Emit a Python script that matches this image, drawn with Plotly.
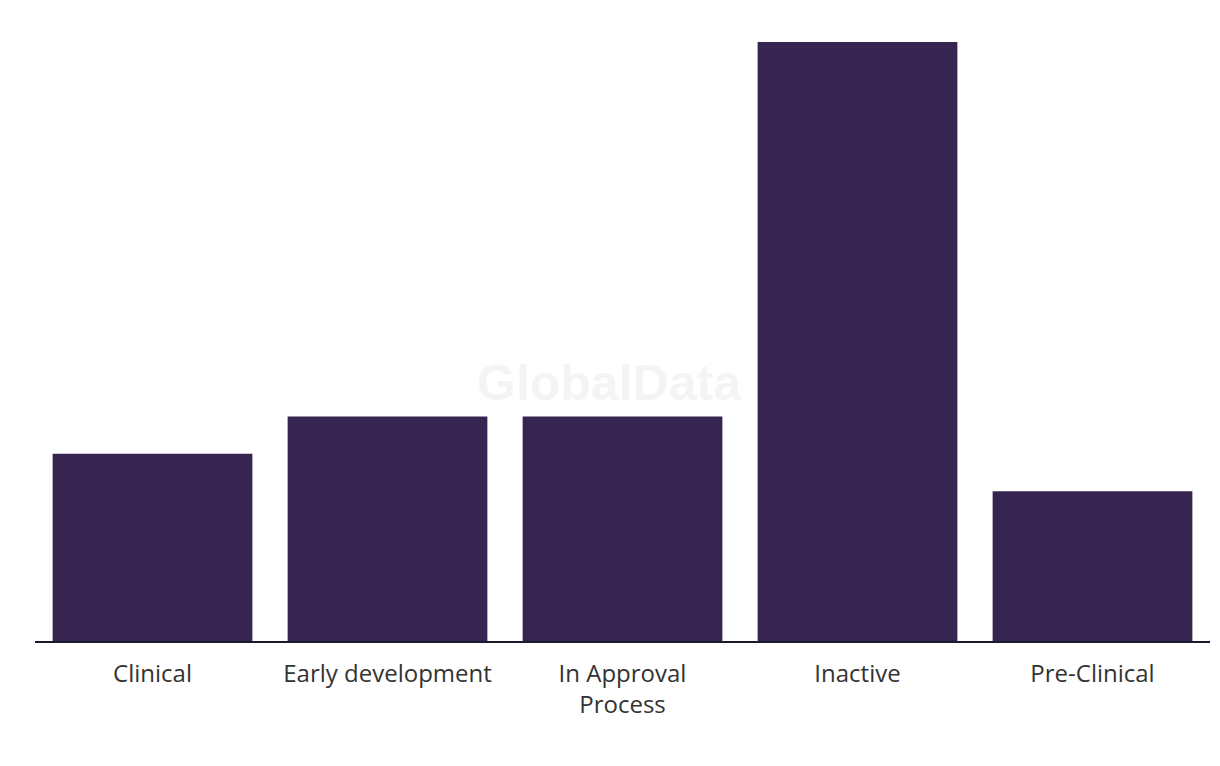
import plotly.graph_objects as go

categories = ["Clinical", "Early development", "In Approval<br>Process", "Inactive", "Pre-Clinical"]
values = [5, 6, 6, 16, 4]

fig = go.Figure()
fig.add_trace(go.Bar(x=categories, y=values, marker=dict(color="#362451", line=dict(width=0)),
                     hoverinfo="x+y"))

fig.update_layout(
    width=1220, height=766,
    margin=dict(l=27, r=18, t=34, b=133),
    paper_bgcolor="white", plot_bgcolor="white",
    bargap=0.15,
    showlegend=False,
    font=dict(family="Open Sans, Arial, sans-serif", color="#333333", size=22),
    xaxis=dict(showline=True, linecolor="#1a1a2e", linewidth=1.5, showgrid=False,
               ticks="", tickfont=dict(size=24, color="#333333"), ticklabelstandoff=10),
    yaxis=dict(range=[0, 16], visible=False, showgrid=False, zeroline=False),
    annotations=[dict(text="<b>GlobalData</b>", x=0.489, y=0.431, xref="paper", yref="paper",
                      showarrow=False, font=dict(size=50, color="#f4f4f4",
                                                  family="Liberation Sans, Arial, sans-serif"))],
)

fig.write_html("out.html")
